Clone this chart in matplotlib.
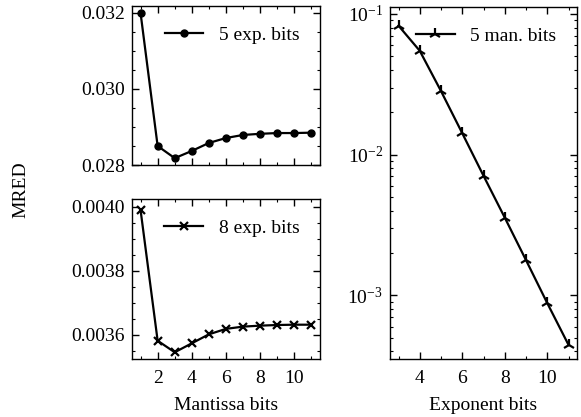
### Imports ###
import matplotlib
matplotlib.use('Agg')
import matplotlib.pyplot as plt
from matplotlib.ticker import MultipleLocator, FormatStrFormatter

### Data ###
man_bits = [1, 2, 3, 4, 5, 6, 7, 8, 9, 10, 11]
mred_5exp = [0.03200, 0.02850, 0.02818, 0.02837, 0.02858, 0.02871,
             0.02879, 0.02882, 0.02884, 0.02884, 0.02885]
mred_8exp = [0.003990, 0.003582, 0.003546, 0.003574, 0.003602, 0.003619,
             0.003626, 0.003629, 0.003631, 0.003632, 0.003632]

exp_bits = [3, 4, 5, 6, 7, 8, 9, 10, 11]
mred_5man = [0.0825, 0.0547, 0.0283, 0.0142, 0.00708, 0.00357,
             0.00178, 0.000881, 0.000445]

### Style ###
plt.rcParams['font.family'] = 'serif'
plt.rcParams['font.serif'] = ['Liberation Serif', 'DejaVu Serif']
plt.rcParams['mathtext.fontset'] = 'stix'
plt.rcParams['font.size'] = 14
plt.rcParams['axes.linewidth'] = 1.0
plt.rcParams['axes.labelpad'] = 7
for a in ('xtick', 'ytick'):
    plt.rcParams[f'{a}.direction'] = 'in'
    plt.rcParams[f'{a}.major.size'] = 5
    plt.rcParams[f'{a}.minor.size'] = 2.5
    plt.rcParams[f'{a}.major.width'] = 1.0
    plt.rcParams[f'{a}.minor.width'] = 0.8
    plt.rcParams[f'{a}.minor.visible'] = True
plt.rcParams['xtick.major.pad'] = 8
plt.rcParams['ytick.major.pad'] = 5
plt.rcParams['xtick.top'] = True
plt.rcParams['ytick.right'] = True

W, H = 581, 417
fig = plt.figure(figsize=(W / 100, H / 100), dpi=100)


def px_axes(x0, y0, x1, y1):
    # Axes from pixel box (top-left origin)
    return fig.add_axes([x0 / W, 1 - y1 / H, (x1 - x0) / W, (y1 - y0) / H])


ax_top = px_axes(132, 6, 320, 165)
ax_bot = px_axes(132, 199, 320, 359)
ax_r = px_axes(390, 7, 577, 359)

line_kw = dict(color='black', lw=1.6)
leg_kw = dict(loc='upper right', frameon=False, handlelength=2.0,
              borderaxespad=0.65)

# Top left: 5 exponent bits
ax_top.plot(man_bits, mred_5exp, marker='o', ms=5, label='5 exp. bits', **line_kw)
ax_top.set_xlim(0.5, 11.5)
ax_top.set_ylim(0.028, 0.03218)
ax_top.yaxis.set_major_locator(MultipleLocator(0.002))
ax_top.yaxis.set_major_formatter(FormatStrFormatter('%.3f'))
ax_top.xaxis.set_major_locator(MultipleLocator(2))
ax_top.xaxis.set_minor_locator(MultipleLocator(1))
ax_top.tick_params(labelbottom=False)
ax_top.legend(**leg_kw)

# Bottom left: 8 exponent bits
ax_bot.plot(man_bits, mred_8exp, marker='x', ms=6, mew=1.6,
            label='8 exp. bits', **line_kw)
ax_bot.set_xlim(0.5, 11.5)
ax_bot.set_ylim(0.003525, 0.004024)
ax_bot.yaxis.set_major_locator(MultipleLocator(0.0002))
ax_bot.yaxis.set_major_formatter(FormatStrFormatter('%.4f'))
ax_bot.xaxis.set_major_locator(MultipleLocator(2))
ax_bot.xaxis.set_minor_locator(MultipleLocator(1))
ax_bot.set_xlabel('Mantissa bits')
ax_bot.legend(**leg_kw)

# Right: 5 mantissa bits, log scale
ax_r.plot(exp_bits, mred_5man, marker='2', ms=9, mew=1.6,
          label='5 man. bits', **line_kw)
ax_r.set_yscale('log')
ax_r.set_xlim(2.6, 11.4)
ax_r.set_ylim(3.53e-4, 0.112)
ax_r.xaxis.set_major_locator(MultipleLocator(2))
ax_r.xaxis.set_minor_locator(MultipleLocator(1))
ax_r.set_xlabel('Exponent bits')
ax_r.legend(**leg_kw)

fig.text(21 / W, 1 - 190 / H, 'MRED', rotation=90, ha='center', va='center')

fig.savefig('out.png', dpi=100)
